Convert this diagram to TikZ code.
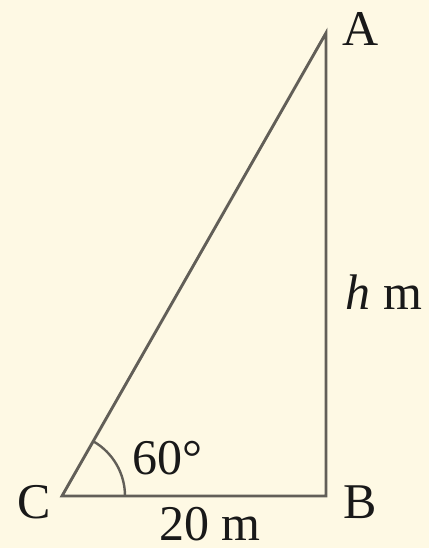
\documentclass[tikz,border=0pt]{standalone}
\usepackage{fontspec}
\setmainfont{Liberation Serif}
\usetikzlibrary{calc}
\begin{document}
\begin{tikzpicture}[x=0.5pt,y=-0.5pt,
  edge/.style={draw=black!85!yellow!60!gray, line width=1.45pt, line join=miter},
  lbl/.style={font=\fontsize{25}{28}\selectfont, text=black!90, inner sep=0pt}]
\fill[fill={rgb,255:red,254;green,249;blue,228}] (0,0) rectangle (429,548);
\useasboundingbox (0,0) rectangle (429,548);
\coordinate (C) at (62,496);
\coordinate (B) at (326,496);
\coordinate (A) at (326,33);
\draw[edge] (C) -- (B) -- (A) -- cycle;
\draw[edge, line width=1.2pt] ($(C)+(63,0)$) arc[start angle=0, end angle=-60, radius=63];
\node[lbl] (lA) at (361,29) {A};
\node[lbl] (lB) at (360,502) {B};
\node[lbl] (lC) at (34,502) {C};
\node[lbl] (lh) at (384,292) {\textit{h} m};
\node[lbl] (l60) at (167,458) {60°};
\node[lbl, anchor=base] (l20) at (210,540) {20 m};
\end{tikzpicture}
\end{document}
